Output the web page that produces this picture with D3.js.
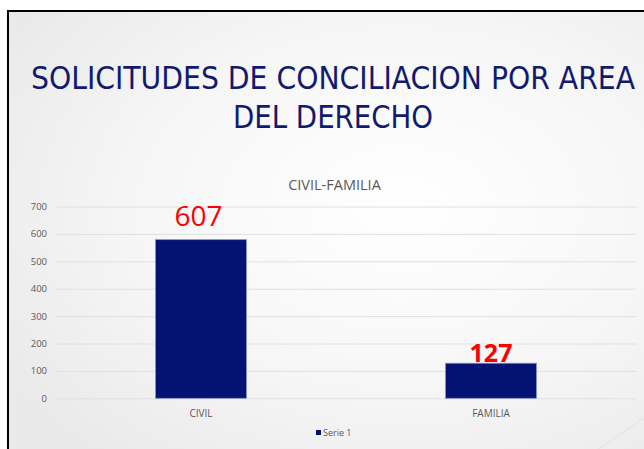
<!DOCTYPE html>
<html>
<head>
<meta charset="utf-8">
<script src="https://cdn.jsdelivr.net/npm/d3@7"></script>
<style>
  html, body { margin: 0; padding: 0; background: #fff; }
  svg { display: block; }
</style>
</head>
<body>
<div id="chart"></div>
<script>
const categories = ["CIVIL", "FAMILIA"];
const serie1 = [579, 128];
const dataLabels = ["607", "127"];
const yTicks = [0, 100, 200, 300, 400, 500, 600, 700];
const titleLines = ["SOLICITUDES DE CONCILIACION POR AREA", "DEL DERECHO"];

const W = 644, H = 449;
const svg = d3.select("#chart").append("svg")
    .attr("width", W)
    .attr("height", H);

// slide background
const defs = svg.append("defs");
const grad = defs.append("radialGradient")
    .attr("id", "bg")
    .attr("cx", "0.62").attr("cy", "0.45").attr("r", "0.75");
grad.append("stop").attr("offset", "0").attr("stop-color", "#ffffff");
grad.append("stop").attr("offset", "0.55").attr("stop-color", "#f6f6f6");
grad.append("stop").attr("offset", "1").attr("stop-color", "#e9e9e9");

svg.append("rect").attr("x", 8).attr("y", 11).attr("width", W - 8).attr("height", H - 11)
    .attr("fill", "url(#bg)");

// faint decorative line bottom right
svg.append("line")
    .attr("x1", 598).attr("y1", 449).attr("x2", 644).attr("y2", 418)
    .attr("stroke", "#e2e2e2").attr("stroke-width", 1);

// slide border (top + left)
svg.append("path")
    .attr("d", `M8,${H} L8,11 L${W},11`)
    .attr("fill", "none").attr("stroke", "#000").attr("stroke-width", 2);

// title (narrow, tall lettering: smaller font stretched vertically)
svg.selectAll("g.title")
    .data(titleLines)
    .enter().append("g")
    .attr("class", "title")
    .attr("transform", (d, i) => `translate(333,${89 + i * 39}) scale(1,1.1)`)
    .append("text")
    .attr("text-anchor", "middle")
    .attr("font-family", "'DejaVu Sans Condensed', 'DejaVu Sans', sans-serif")
    .attr("font-size", 29)
    .attr("fill", "#111a6e")
    .attr("textLength", (d, i) => i === 0 ? 604 : 200)
    .attr("lengthAdjust", "spacingAndGlyphs")
    .text(d => d);

// chart title
svg.append("text")
    .attr("x", 334.5)
    .attr("y", 190)
    .attr("text-anchor", "middle")
    .attr("font-family", "'Open Sans', sans-serif")
    .attr("font-size", 14.5)
    .attr("fill", "#595959")
    .text("CIVIL-FAMILIA");

const x = d3.scaleBand()
    .domain(categories)
    .range([56, 636])
    .paddingInner(0.686)
    .paddingOuter(0.343);

const y = d3.scaleLinear()
    .domain([0, 700])
    .range([398.3, 206.5]);

// y axis + gridlines
const yAxis = svg.append("g")
    .attr("transform", "translate(56,0)")
    .call(d3.axisLeft(y).tickValues(yTicks).tickSize(-580).tickPadding(9));
yAxis.select(".domain").remove();
yAxis.selectAll(".tick line").attr("stroke", "#e0e0e0");
yAxis.selectAll(".tick text")
    .attr("fill", "#595959")
    .attr("font-family", "'Open Sans', sans-serif")
    .attr("font-size", 9.5);

// x axis
const xAxis = svg.append("g")
    .attr("transform", "translate(0,398.3)")
    .call(d3.axisBottom(x).tickSize(0).tickPadding(11.5));
xAxis.select(".domain").remove();
xAxis.selectAll(".tick text")
    .attr("fill", "#595959")
    .attr("font-family", "'Open Sans', sans-serif")
    .attr("font-size", 10);

// bars
svg.selectAll("rect.bar")
    .data(serie1)
    .enter().append("rect")
    .attr("class", "bar")
    .attr("x", (d, i) => x(categories[i]))
    .attr("y", d => y(d))
    .attr("width", x.bandwidth())
    .attr("height", d => y(0) - y(d))
    .attr("fill", "#041373")
    .attr("stroke", "#8a92c6")
    .attr("stroke-width", 0.8);

// value labels (typed over the bars in the original)
svg.selectAll("text.val")
    .data(dataLabels)
    .enter().append("text")
    .attr("class", "val")
    .attr("x", (d, i) => x(categories[i]) + x.bandwidth() / 2 + (i === 0 ? -2.5 : 0))
    .attr("y", (d, i) => y(serie1[i]) - (i === 0 ? 13.5 : 1.5))
    .attr("text-anchor", "middle")
    .attr("font-family", "'Open Sans', sans-serif")
    .attr("font-size", (d, i) => i === 0 ? 28 : 25)
    .attr("font-weight", (d, i) => i === 0 ? "normal" : "bold")
    .attr("fill", "#ff0000")
    .text(d => d);

// legend
const legend = svg.append("g").attr("transform", "translate(316,430)");
legend.append("rect")
    .attr("width", 5).attr("height", 5)
    .attr("fill", "#041373");
legend.append("text")
    .attr("x", 7).attr("y", 5.5)
    .attr("font-family", "'Open Sans', sans-serif")
    .attr("font-size", 9)
    .attr("fill", "#595959")
    .text("Serie 1");
</script>
</body>
</html>
